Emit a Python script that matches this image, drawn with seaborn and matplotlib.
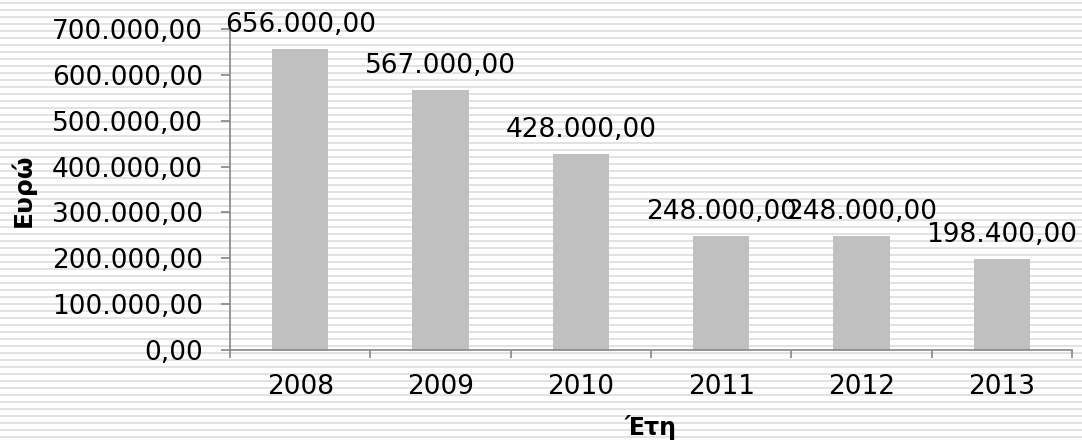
import numpy as np
import pandas as pd
import matplotlib.pyplot as plt
import seaborn as sns


# =========================
# DATA
# =========================

years = ["2008", "2009", "2010", "2011", "2012", "2013"]

amounts = [656000.00, 567000.00, 428000.00, 248000.00, 248000.00, 198400.00]

y_ticks = [0, 100000, 200000, 300000, 400000, 500000, 600000, 700000]


def greek_fmt(v):
    s = f"{v:,.2f}"
    return s.replace(",", "X").replace(".", ",").replace("X", ".")


df = pd.DataFrame({"year": years, "amount": amounts})


# =========================
# FIGURE
# =========================

sns.set_theme(style="white")
plt.rcParams["font.family"] = ["DejaVu Sans"]
plt.rcParams["text.color"] = "black"
plt.rcParams["axes.labelcolor"] = "black"
plt.rcParams["xtick.color"] = "black"
plt.rcParams["ytick.color"] = "black"

fig = plt.figure(figsize=(10.82, 4.42), dpi=100)

# striped background (horizontal line pattern)
bg = fig.add_axes([0, 0, 1, 1], zorder=0)
bg.set_xlim(0, 1)
bg.set_ylim(442, 0)
bg.hlines(np.arange(2.5, 442, 7.0), 0, 1, color="#e2e2e2", linewidth=1.4)
bg.axis("off")

ax = fig.add_axes([230 / 1082, 1 - 350 / 442, 842 / 1082, 321 / 442], zorder=1)
ax.patch.set_alpha(0)

sns.barplot(
    data=df,
    x="year",
    y="amount",
    color="#c0c0c0",
    saturation=1,
    width=0.4,
    linewidth=0,
    ax=ax
)

ax.set_ylim(0, 700000)
ax.set_xlim(-0.5, len(years) - 0.5)
ax.set_yticks(y_ticks)
ax.set_yticklabels([greek_fmt(v) for v in y_ticks], fontsize=19)

ax.set_xticks(range(len(years)))
ax.set_xticklabels(years, fontsize=19)
ax.tick_params(axis="x", which="major", length=0, pad=17, bottom=True)

# category boundary ticks
ax.set_xticks(np.arange(-0.5, len(years), 1.0), minor=True)
ax.tick_params(axis="x", which="minor", length=6, color="#868686", width=1.2,
               direction="out", bottom=True)
ax.tick_params(axis="y", length=6.5, color="#868686", width=1.2,
               direction="out", pad=13, left=True)

for side in ["top", "right"]:
    ax.spines[side].set_visible(False)
for side in ["left", "bottom"]:
    ax.spines[side].set_color("#868686")
    ax.spines[side].set_linewidth(1.2)

for i, v in enumerate(amounts):
    ax.annotate(
        greek_fmt(v),
        (i, v),
        xytext=(0, 12.3),
        textcoords="offset points",
        ha="center",
        va="baseline",
        fontsize=19,
        annotation_clip=False
    )

ax.set_xlabel("Έτη", fontsize=17, fontweight="bold", va="center")
ax.set_ylabel("Ευρώ", fontsize=18, fontweight="bold", va="center")
ax.xaxis.set_label_coords(0.5, (350 - 427) / 321)
ax.yaxis.set_label_coords((23 - 230) / 842, (350 - 190) / 321)

plt.savefig("out.png", dpi=100)

plt.close()
